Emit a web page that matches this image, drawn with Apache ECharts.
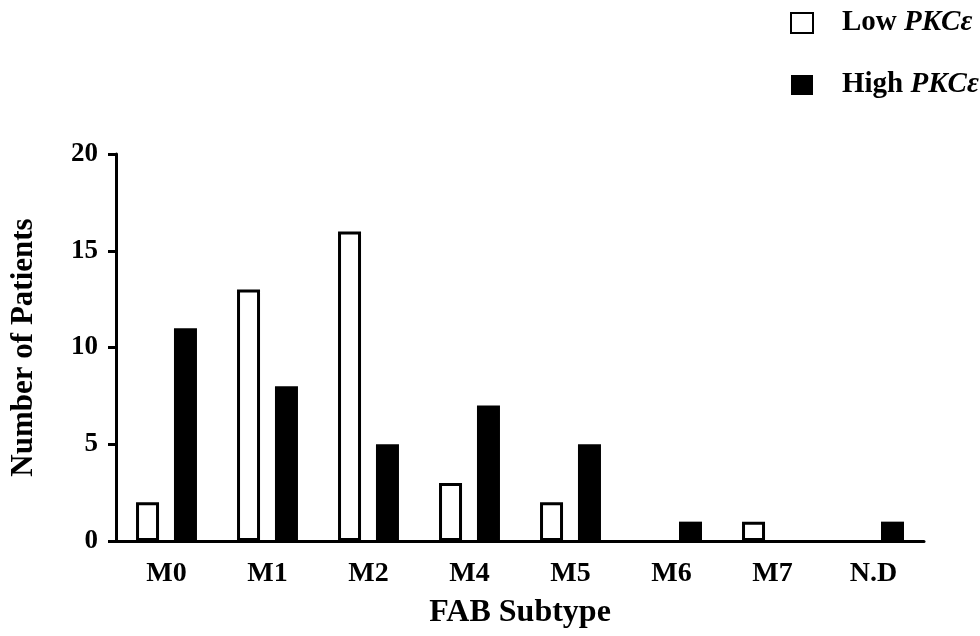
<!DOCTYPE html>
<html>
<head>
<meta charset="utf-8">
<script src="https://cdn.jsdelivr.net/npm/echarts@6/dist/echarts.min.js"></script>
<style>
  html, body { margin: 0; padding: 0; background: #fff; }
  #chart { width: 980px; height: 636px; }
</style>
</head>
<body>
<div id="chart"></div>
<script>
// FAB subtypes and patient counts
const subtypes = ['M0', 'M1', 'M2', 'M4', 'M5', 'M6', 'M7', 'N.D'];
const lowPkc = [2, 13, 16, 3, 2, 0, 1, 0];
const highPkc = [11, 8, 5, 7, 5, 1, 0, 1];
const yTicks = { min: 0, max: 20, interval: 5 };

const font = 'Liberation Serif, Times New Roman, serif';
const chart = echarts.init(document.getElementById('chart'));

// empty bars should not leave a border line on the axis
const lowData = lowPkc.map(v => v === 0 ? { value: v, itemStyle: { borderWidth: 0 } } : v);

const option = {
    backgroundColor: '#fff',
    animation: false,
    textStyle: { fontFamily: font, color: '#000' },
    legend: {
        orient: 'vertical',
        left: 785,
        top: 3,
        itemWidth: 22,
        itemHeight: 20,
        itemGap: 32,
        icon: 'rect',
        textStyle: {
            fontFamily: font,
            fontSize: 29,
            fontWeight: 'bold',
            color: '#000',
            lineHeight: 30,
            padding: [0, 0, 0, 24],
            rich: {
                i: { fontFamily: font, fontSize: 29, fontWeight: 'bold', fontStyle: 'italic', color: '#000', lineHeight: 30 }
            }
        },
        formatter: (name) => name.replace('PKCε', '{i|PKCε}'),
        data: ['Low PKCε', 'High PKCε']
    },
    grid: { left: 116, right: 56, top: 154, bottom: 95 },
    xAxis: {
        type: 'category',
        data: subtypes,
        name: 'FAB Subtype',
        nameLocation: 'middle',
        nameGap: 56,
        nameTextStyle: { fontFamily: font, fontSize: 32, fontWeight: 'bold', color: '#000' },
        axisLine: { lineStyle: { color: '#000', width: 3 } },
        axisTick: { alignWithLabel: true, length: 10, lineStyle: { color: '#000', width: 3 } },
        axisLabel: { fontFamily: font, fontSize: 28, fontWeight: 'bold', color: '#000', margin: 19 }
    },
    yAxis: {
        type: 'value',
        min: yTicks.min,
        max: yTicks.max,
        interval: yTicks.interval,
        name: 'Number of Patients',
        nameLocation: 'middle',
        nameGap: 77,
        nameTextStyle: { fontFamily: font, fontSize: 31, fontWeight: 'bold', color: '#000' },
        axisLine: { show: true, lineStyle: { color: '#000', width: 3 } },
        axisTick: { show: true, length: 8, lineStyle: { color: '#000', width: 3 } },
        axisLabel: { fontFamily: font, fontSize: 27, fontWeight: 'bold', color: '#000', margin: 18 },
        splitLine: { show: false }
    },
    series: [
        {
            name: 'Low PKCε',
            type: 'bar',
            data: lowData,
            barWidth: 23,
            barGap: '65%',
            itemStyle: { color: '#fff', borderColor: '#000', borderWidth: 3 }
        },
        {
            name: 'High PKCε',
            type: 'bar',
            data: highPkc,
            barWidth: 23,
            itemStyle: { color: '#000' }
        }
    ]
};

chart.setOption(option);
</script>
</body>
</html>
